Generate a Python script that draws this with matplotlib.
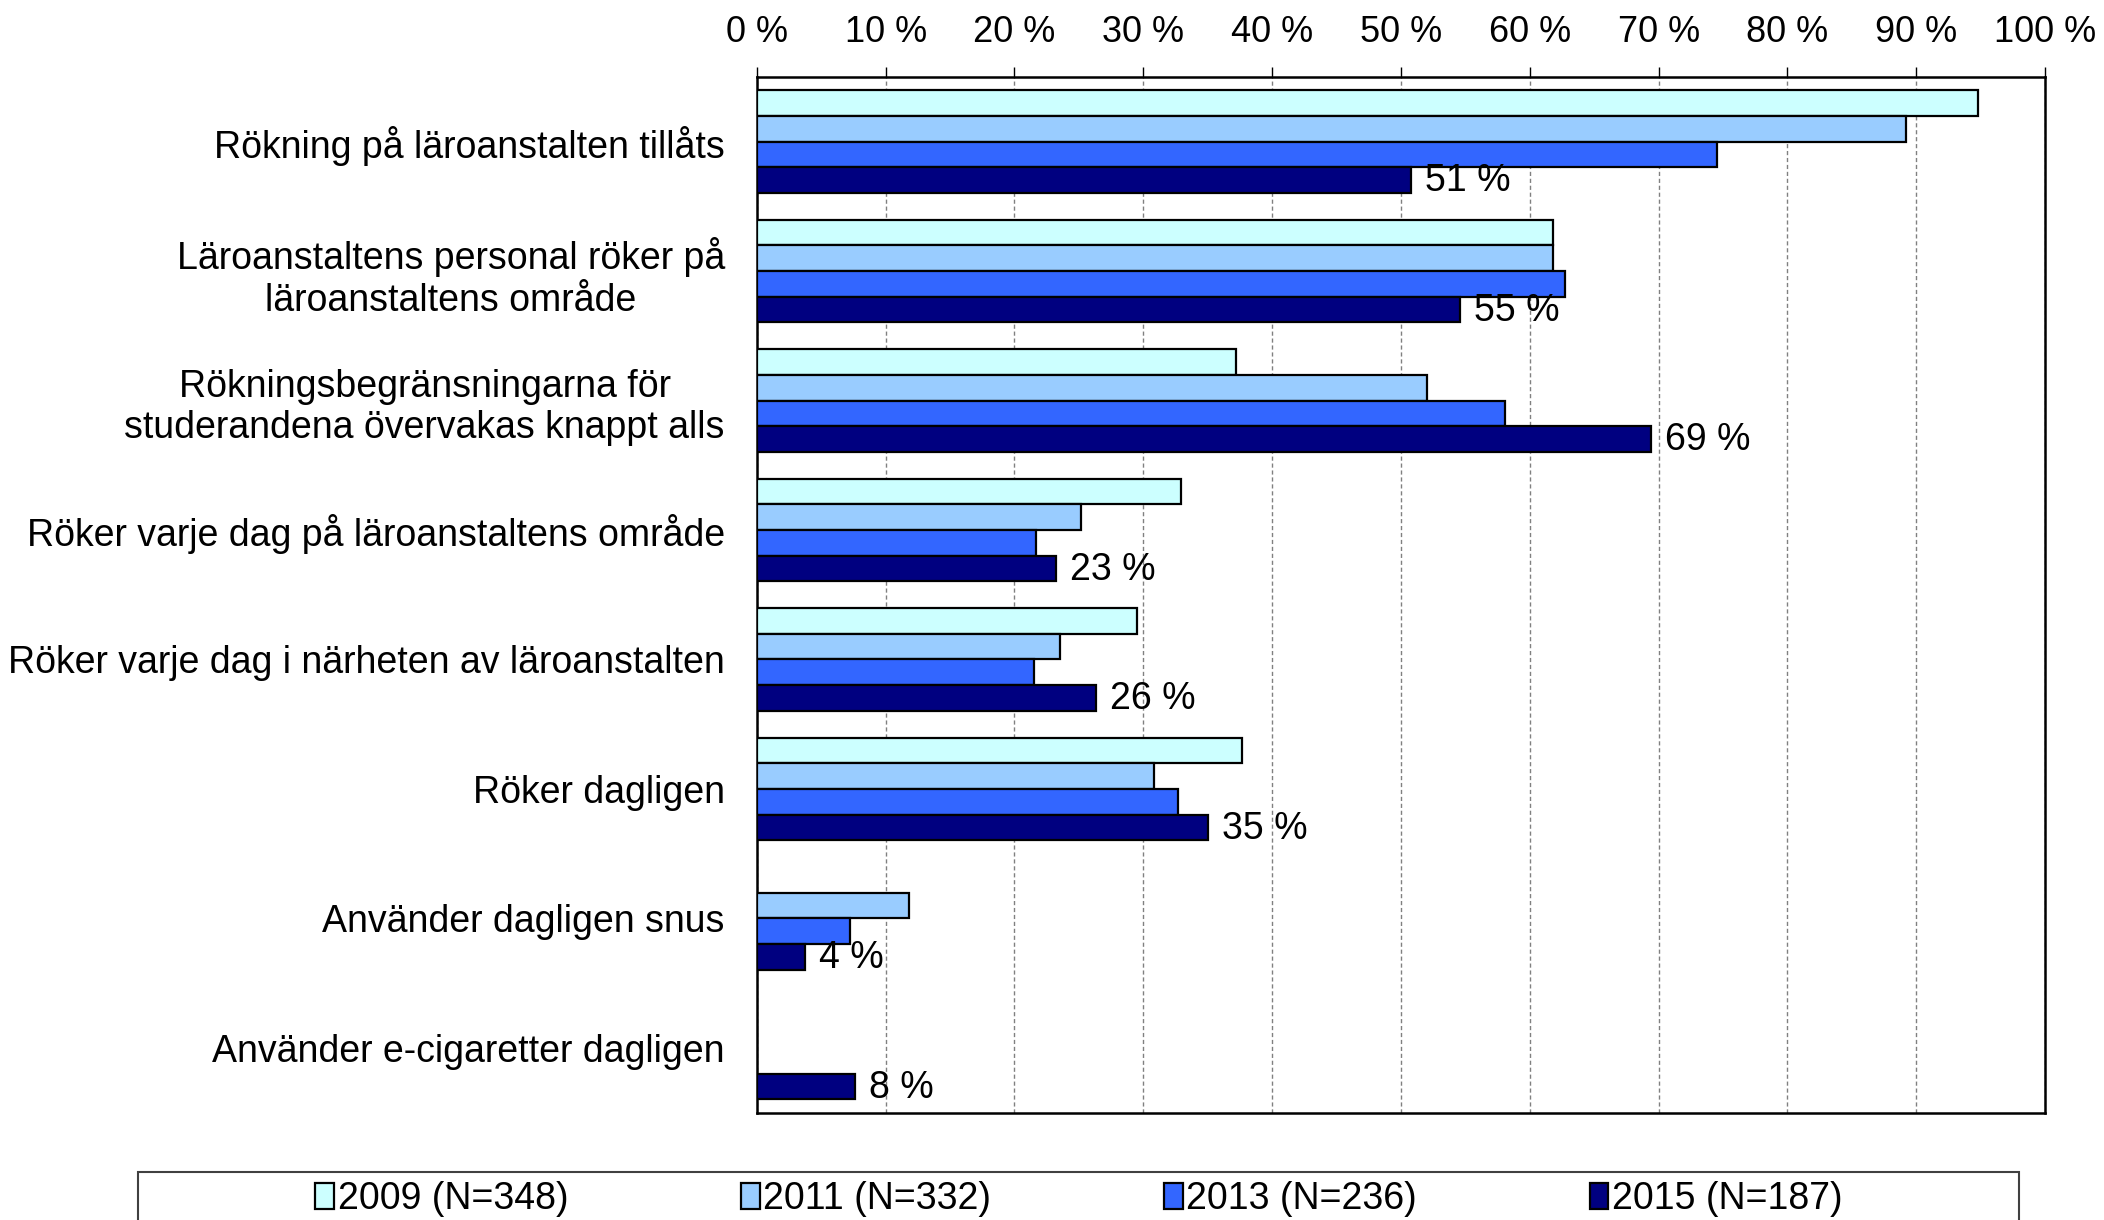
import numpy as np
import matplotlib
matplotlib.use("Agg")
import matplotlib.pyplot as plt
from matplotlib.patches import Rectangle

plt.rcParams['font.family'] = ['Liberation Sans', 'DejaVu Sans']

# -------------------------
# Data
# -------------------------

categories = [
    "Rökning på läroanstalten tillåts",
    "Läroanstaltens personal röker på\nläroanstaltens område",
    "Rökningsbegränsningarna för\nstuderandena övervakas knappt alls",
    "Röker varje dag på läroanstaltens område",
    "Röker varje dag i närheten av läroanstalten",
    "Röker dagligen",
    "Använder dagligen snus",
    "Använder e-cigaretter dagligen",
]

series_labels = ["2009 (N=348)", "2011 (N=332)", "2013 (N=236)", "2015 (N=187)"]

v2009 = [94.8, 61.8, 37.2, 32.9, 29.5, 37.7, np.nan, np.nan]
v2011 = [89.2, 61.8, 52.0, 25.2, 23.5, 30.8, 11.8, np.nan]
v2013 = [74.5, 62.7, 58.1, 21.7, 21.5, 32.7, 7.2, np.nan]
v2015 = [50.8, 54.6, 69.4, 23.2, 26.3, 35.0, 3.75, 7.6]
labels2015 = ["51 %", "55 %", "69 %", "23 %", "26 %", "35 %", "4 %", "8 %"]

colors = ["#CCFFFF", "#99CCFF", "#3366FF", "#000080"]

# -------------------------
# Plot
# -------------------------

fig = plt.figure(figsize=(21.04, 12.2), dpi=100)
ax = fig.add_axes([0.3597, 0.088, 0.6123, 0.849])

y = np.arange(len(categories))
bar_h = 0.198
offsets = [-1.5, -0.5, 0.5, 1.5]

for vals, color, off, lab in zip([v2009, v2011, v2013, v2015], colors, offsets, series_labels):
    vals = np.array(vals, dtype=float)
    mask = ~np.isnan(vals)
    ax.barh(y[mask] + off * bar_h, vals[mask], height=bar_h, color=color,
            edgecolor="black", linewidth=1.6, label=lab, zorder=3)

# value labels for 2015
for yi, v, txt in zip(y, v2015, labels2015):
    ax.text(v + 1.1, yi + 1.5 * bar_h + 0.01, txt, ha="left", va="center",
            fontsize=27, zorder=4)

ax.set_xlim(0, 100)
ax.set_ylim(len(categories) - 0.5, -0.5)
ax.set_xticks(np.arange(0, 101, 10))
ax.set_xticklabels([f"{t} %" for t in range(0, 101, 10)])
ax.xaxis.tick_top()
ax.tick_params(axis="x", labelsize=26, length=7, width=1, pad=12, direction="out")
ax.set_yticks(y)
ax.set_yticklabels(categories, fontsize=27, multialignment="center")
ax.tick_params(axis="y", length=0, pad=23)

ax.grid(axis="x", color="#808080", linestyle=(0, (3, 2)), linewidth=1, zorder=0)
for s in ax.spines.values():
    s.set_linewidth(1.8)
    s.set_color("black")

# legend with a wide frame
fig.patches.append(Rectangle((0.0657, -0.01), 0.8941, 0.0496, transform=fig.transFigure,
                             facecolor="white", edgecolor="#404040", linewidth=1.5))
handles, labs = ax.get_legend_handles_labels()
fig.legend(handles, labs, loc="center", bbox_to_anchor=(0.5128, 0.017), ncol=4,
           frameon=False, fontsize=27, handlelength=0.5, handleheight=0.7,
           handletextpad=0.1, columnspacing=4.6)

fig.savefig("out.png", dpi=100)
